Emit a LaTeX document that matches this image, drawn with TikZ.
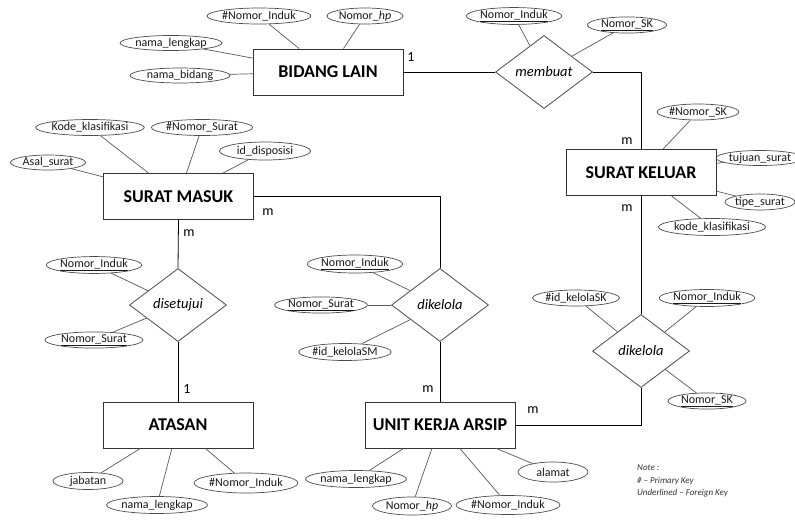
\documentclass[tikz,border=0pt]{standalone}
\usepackage{fontspec}
\setmainfont{Carlito}
\usetikzlibrary{shapes.geometric}

\begin{document}
\begin{tikzpicture}[x=1pt,y=-1pt,
  entity/.style={draw=black!80, line width=0.9pt, minimum width=150pt, minimum height=46pt,
    inner sep=0pt, font=\fontsize{18}{20}\selectfont\bfseries},
  attr/.style={draw=black!70, line width=0.7pt, ellipse, inner sep=0pt, minimum height=16pt,
    font=\fontsize{12}{14}\selectfont, text=black!90},
  rel/.style={draw=black!70, line width=0.8pt, diamond, inner sep=0pt, minimum width=97pt,
    minimum height=73pt, font=\fontsize{14.5}{16}\selectfont\itshape},
  link/.style={draw=black, line width=0.8pt},
  alink/.style={draw=black!65, line width=0.7pt},
  card/.style={inner sep=0pt, font=\fontsize{14}{16}\selectfont},
  notetext/.style={inner sep=0pt, align=left, text=black!80,
    font=\fontsize{9}{12.5}\selectfont\itshape}]

\clip (0,0) rectangle (795,520);
\fill[white] (0,0) rectangle (795,520);

% ---------- entities ----------
\node[entity] (bl) at (328,72)    {BIDANG LAIN};
\node[entity] (sk) at (641,172.5) {SURAT KELUAR};
\node[entity] (sm) at (178.5,196.5) {SURAT MASUK};
\node[entity] (at) at (178,425)   {ATASAN};
\node[entity] (uk) at (440,425)   {UNIT KERJA ARSIP};

% ---------- relationships ----------
\node[rel] (mb)  at (544,72)  {membuat};
\node[rel] (ds)  at (178,305) {disetujui};
\node[rel] (dk1) at (440,305) {dikelola};
\node[rel] (dk2) at (641,351) {dikelola};

% ---------- attributes: BIDANG LAIN ----------
\node[attr, minimum width=88pt] (blni) at (259,16)  {\#Nomor\_Induk};
\node[attr, minimum width=76pt] (blhp) at (365,16)  {Nomor\_\textit{hp}};
\node[attr, minimum width=102pt, minimum height=15pt] (blnl) at (171,43)  {nama\_lengkap};
\node[attr, minimum width=100pt, minimum height=15pt] (blnb) at (180,75.5) {nama\_bidang};

% ---------- attributes: membuat ----------
\node[attr, minimum width=92pt] (mbni) at (514,16) {\underline{Nomor\_Induk}};
\node[attr, minimum width=79pt] (mbsk) at (627,25) {\underline{Nomor\_SK}};

% ---------- attributes: SURAT KELUAR ----------
\node[attr, minimum width=77pt]  (skno) at (698,112) {\#Nomor\_SK};
\node[attr, minimum width=78pt, minimum height=15pt] (sktu) at (760,158) {tujuan\_surat};
\node[attr, minimum width=69pt]  (skti) at (760,202) {tipe\_surat};
\node[attr, minimum width=101pt, minimum height=17pt] (skkk) at (712,227) {kode\_klasifikasi};

% ---------- attributes: SURAT MASUK ----------
\node[attr, minimum width=75pt, minimum height=15pt] (smas) at (48,162.5) {Asal\_surat};
\node[attr, minimum width=101pt] (smkk) at (90,127.5)  {Kode\_klasifikasi};
\node[attr, minimum width=101pt] (smns) at (202,127.5) {\#Nomor\_Surat};
\node[attr, minimum width=91pt, minimum height=18pt] (smid) at (265,151) {id\_disposisi};

% ---------- attributes: disetujui ----------
\node[attr, minimum width=91pt] (dsni) at (94,265) {\underline{Nomor\_Induk}};
\node[attr, minimum width=98pt, minimum height=15pt] (dsns) at (94,340) {\underline{Nomor\_Surat}};

% ---------- attributes: dikelola (surat masuk) ----------
\node[attr, minimum width=90pt, minimum height=18pt] (d1ni) at (355,264) {\underline{Nomor\_Induk}};
\node[attr, minimum width=88pt] (d1ns) at (321,305) {\underline{Nomor\_Surat}};
\node[attr, minimum width=90pt, minimum height=17pt] (d1id) at (345,352) {\#id\_kelolaSM};

% ---------- attributes: dikelola (surat keluar) ----------
\node[attr, minimum width=78pt] (d2id) at (576,298) {\#id\_kelolaSK};
\node[attr, minimum width=90pt, minimum height=17pt] (d2ni) at (707,298) {\underline{Nomor\_Induk}};
\node[attr, minimum width=78pt, minimum height=15pt] (d2sk) at (707,401) {\underline{Nomor\_SK}};

% ---------- attributes: ATASAN ----------
\node[attr, minimum width=70pt, minimum height=17pt] (atjb) at (88,481)  {jabatan};
\node[attr, minimum width=90pt, minimum height=17pt] (atnl) at (157,505) {nama\_lengkap};
\node[attr, minimum width=88pt, minimum height=20pt] (atni) at (246,483) {\#Nomor\_Induk};

% ---------- attributes: UNIT KERJA ARSIP ----------
\node[attr, minimum width=92pt, minimum height=17pt] (uknl) at (356,479) {nama\_lengkap};
\node[attr, minimum width=79pt, minimum height=18pt] (ukhp) at (412,506) {Nomor\_\textit{hp}};
\node[attr, minimum width=90pt, minimum height=19pt] (ukni) at (508,505) {\#Nomor\_Induk};
\node[attr, minimum width=70pt, minimum height=20pt] (ukal) at (553,472) {alamat};

% ---------- attribute links ----------
\foreach \a/\b in {blni/bl, blhp/bl, blnl/bl, blnb/bl,
                   mbni/mb, mbsk/mb,
                   skno/sk, sktu/sk, skti/sk, skkk/sk,
                   smas/sm, smkk/sm, smns/sm, smid/sm,
                   dsni/ds, dsns/ds,
                   d1ni/dk1, d1ns/dk1, d1id/dk1,
                   d2id/dk2, d2ni/dk2, d2sk/dk2,
                   atjb/at, atnl/at, atni/at,
                   uknl/uk, ukhp/uk, ukni/uk, ukal/uk}
  \draw[alink] (\a) -- (\b);

% ---------- relationship links ----------
\draw[link] (bl.east) -- (mb.west);
\draw[link] (mb.east) -| (sk.north);
\draw[link] (sk.south) -- (dk2.north);
\draw[link] (dk2.south) |- (uk.east);
\draw[link] (sm.east) -| (dk1.north);
\draw[link] (dk1.south) -- (uk.north);
\draw[link] (sm.south) -- (ds.north);
\draw[link] (ds.south) -- (at.north);

% ---------- cardinalities ----------
\node[card] (c1) at (411,57)  {1};
\node[card] (c2) at (627,141) {m};
\node[card] (c3) at (627,208) {m};
\node[card] (c4) at (268,212) {m};
\node[card] (c5) at (189,233) {m};
\node[card] (c6) at (187,389) {1};
\node[card] (c7) at (428,389) {m};
\node[card] (c8) at (533,410) {m};

% ---------- legend ----------
\node[notetext, anchor=north west] (note) at (637,465)
  {Note :\\\# -- Primary Key\\Underlined -- Foreign Key};

\end{tikzpicture}
\end{document}
